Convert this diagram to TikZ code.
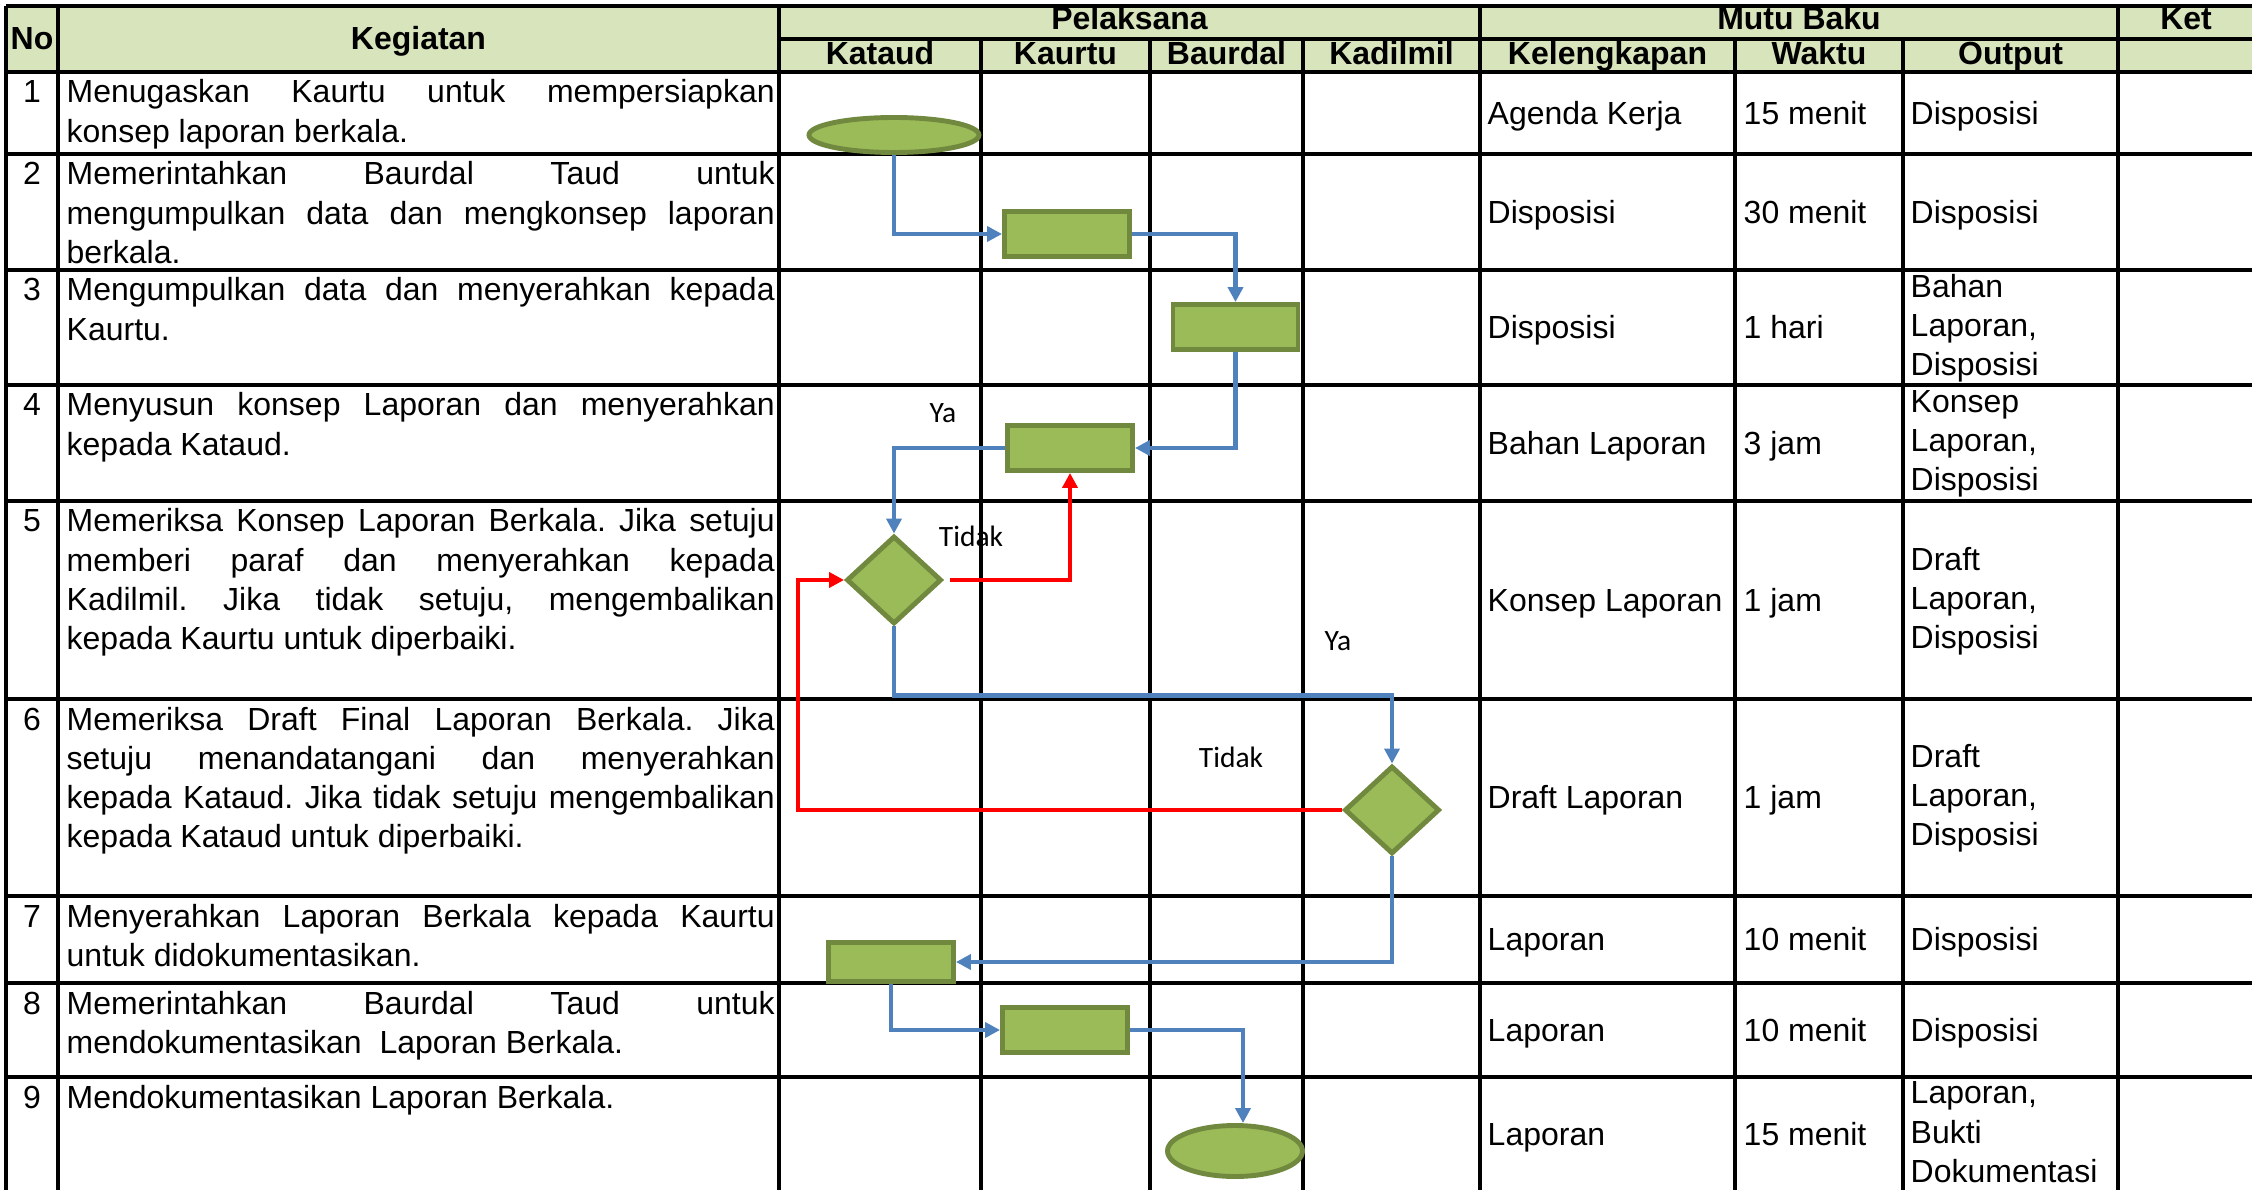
\documentclass[tikz,border=0pt]{standalone}
\usepackage{fontspec}
\setmainfont{Liberation Sans}
\newfontfamily\labelfont{Carlito}
\usetikzlibrary{shapes.geometric, arrows.meta}

\definecolor{headgreen}{HTML}{D8E4BC}
\definecolor{boxgreen}{HTML}{9BBB59}
\definecolor{boxline}{HTML}{71893F}
\definecolor{flowblue}{HTML}{4F81BD}

\newcommand{\bodyfont}{\fontsize{9.1}{11.15}\selectfont\frenchspacing}
\newcommand{\headfont}{\fontsize{9.1}{11.15}\selectfont\bfseries}
\tolerance=10000
\hbadness=10000
\hyphenpenalty=10000

\begin{document}
\begin{tikzpicture}[x=1cm, y=-1cm,
    rule/.style={line width=1pt},
    head/.style={font=\headfont, inner sep=0pt, anchor=base},
    nomor/.style={font=\bodyfont, inner sep=0pt, anchor=base},
    kegiatan/.style={font=\bodyfont, inner sep=0pt, anchor=base west, text width=7.08cm, align=justify},
    isi/.style={font=\bodyfont, inner sep=0pt, anchor=west, align=left,
        execute at begin node=\strut, execute at end node=\strut},
    proses/.style={rectangle, draw=boxline, fill=boxgreen, line width=1.4pt,
        minimum width=1.25cm, minimum height=0.45cm, inner sep=0pt},
    mulai/.style={ellipse, draw=boxline, fill=boxgreen, line width=1.4pt, inner sep=0pt},
    cek/.style={diamond, draw=boxline, fill=boxgreen, line width=1.4pt, inner sep=0pt,
        minimum width=0.95cm, minimum height=0.88cm},
    alur/.style={draw=flowblue, line width=1.3pt, -{Triangle[length=0.15cm,width=0.15cm]}},
    balik/.style={draw=red, line width=1.3pt, -{Triangle[length=0.15cm,width=0.15cm]}},
    ket/.style={font=\labelfont\fontsize{8.4}{10}\selectfont, inner sep=0pt}]

    \useasboundingbox (0,0) rectangle (22.52,11.90);
    \clip (0,0) rectangle (22.52,11.90);

    % header background
    \fill[headgreen] (0.06,0.06) rectangle (22.6,0.72);

    % table lines
    \draw[rule] (0.06,0.06) -- (22.6,0.06);
    \draw[rule] (7.79,0.39) -- (22.6,0.39);
    \foreach \y in {0.72,1.54,2.70,3.85,5.01,6.99,8.96,9.83,10.77}
        \draw[rule] (0.06,\y) -- (22.6,\y);
    \foreach \x in {0.06,0.58,7.79,14.80,21.18}
        \draw[rule] (\x,0.06) -- (\x,12);
    \foreach \x in {9.81,11.50,13.03,17.35,19.03}
        \draw[rule] (\x,0.39) -- (\x,12);

    % header texts
    \node[head] (hno) at (0.32,0.495) {No};
    \node[head] (hkeg) at (4.185,0.495) {Kegiatan};
    \node[head] (hpel) at (11.295,0.30) {Pelaksana};
    \node[head] (hmutu) at (17.99,0.30) {Mutu Baku};
    \node[head] (hket) at (21.86,0.30) {Ket};
    \node[head] (hkataud) at (8.80,0.645) {Kataud};
    \node[head] (hkaurtu) at (10.655,0.645) {Kaurtu};
    \node[head] (hbaurdal) at (12.265,0.645) {Baurdal};
    \node[head] (hkadilmil) at (13.915,0.645) {Kadilmil};
    \node[head] (hkel) at (16.075,0.645) {Kelengkapan};
    \node[head] (hwaktu) at (18.19,0.645) {Waktu};
    \node[head] (hout) at (20.105,0.645) {Output};

    % rows: number, Kelengkapan, Waktu, Output
    \foreach \i/\yt/\ym/\kel/\wkt/\out in {
        1/0.72/1.13/{Agenda Kerja}/{15 menit}/{Disposisi},
        2/1.54/2.12/{Disposisi}/{30 menit}/{Disposisi},
        3/2.70/3.275/{Disposisi}/{1 hari}/{Bahan\\Laporan,\\Disposisi},
        4/3.85/4.43/{Bahan Laporan}/{3 jam}/{Konsep\\Laporan,\\Disposisi},
        5/5.01/6.00/{Konsep Laporan}/{1 jam}/{Draft\\Laporan,\\Disposisi},
        6/6.99/7.975/{Draft Laporan}/{1 jam}/{Draft\\Laporan,\\Disposisi},
        7/8.96/9.395/{Laporan}/{10 menit}/{Disposisi},
        8/9.83/10.30/{Laporan}/{10 menit}/{Disposisi},
        9/10.77/11.345/{Laporan}/{15 menit}/{Laporan,\\Bukti\\Dokumentasi}}
    {
        \node[nomor] (no\i) at (0.32,\yt+0.31) {\i};
        \node[isi] (kel\i) at (14.87,\ym+0.035) {\kel};
        \node[isi] (wkt\i) at (17.43,\ym+0.035) {\wkt};
        \node[isi] (out\i) at (19.10,\ym+0.035) {\out};
    }

    % Kegiatan
    \node[kegiatan] (keg1) at (0.66,1.03) {Menugaskan Kaurtu untuk mempersiapkan\linebreak konsep laporan berkala.};
    \node[kegiatan] (keg2) at (0.66,1.85) {Memerintahkan Baurdal Taud untuk\linebreak mengumpulkan data dan mengkonsep laporan\linebreak berkala.};
    \node[kegiatan] (keg3) at (0.66,3.01) {Mengumpulkan data dan menyerahkan kepada\linebreak Kaurtu.};
    \node[kegiatan] (keg4) at (0.66,4.16) {Menyusun konsep Laporan dan menyerahkan\linebreak kepada Kataud.};
    \node[kegiatan] (keg5) at (0.66,5.32) {Memeriksa Konsep Laporan Berkala. Jika setuju\linebreak memberi paraf dan menyerahkan kepada\linebreak Kadilmil. Jika tidak setuju, mengembalikan\linebreak kepada Kaurtu untuk diperbaiki.};
    \node[kegiatan] (keg6) at (0.66,7.30) {Memeriksa Draft Final Laporan Berkala. Jika\linebreak setuju menandatangani dan menyerahkan\linebreak kepada Kataud. Jika tidak setuju mengembalikan\linebreak kepada Kataud untuk diperbaiki.};
    \node[kegiatan] (keg7) at (0.66,9.27) {Menyerahkan Laporan Berkala kepada Kaurtu\linebreak untuk didokumentasikan.};
    \node[kegiatan] (keg8) at (0.66,10.14) {Memerintahkan Baurdal Taud untuk\linebreak mendokumentasikan~ Laporan Berkala.};
    \node[kegiatan] (keg9) at (0.66,11.08) {Mendokumentasikan Laporan Berkala.};

    % flow shapes
    \node[mulai, minimum width=1.70cm, minimum height=0.35cm] (s1) at (8.94,1.35) {};
    \node[proses] (r2) at (10.67,2.34) {};
    \node[proses] (r3) at (12.355,3.27) {};
    \node[proses] (r4) at (10.70,4.48) {};
    \node[cek] (d1) at (8.94,5.80) {};
    \node[cek] (d2) at (13.92,8.10) {};
    \node[proses, minimum height=0.39cm] (r7) at (8.91,9.62) {};
    \node[proses] (r8) at (10.65,10.30) {};
    \node[mulai, minimum width=1.35cm, minimum height=0.51cm] (e9) at (12.35,11.51) {};

    % labels
    \node[ket] (ya1) at (9.43,4.13) {Ya};
    \node[ket] (tidak1) at (9.71,5.36) {Tidak};
    \node[ket] (ya2) at (13.38,6.41) {Ya};
    \node[ket] (tidak2) at (12.31,7.57) {Tidak};

    % connectors
    \draw[alur] (s1.south) |- (r2.west);
    \draw[alur] (r2.east) -| (r3.north);
    \draw[alur] (r3.south) |- (r4.east);
    \draw[alur] (r4.west) -| (d1.north);
    \draw[balik, shorten <=0.06cm] (d1.east) -| (r4.south);
    \coordinate (kiri) at (7.98,8.10);
    \draw[balik] (d2.west) -- (kiri) |- (d1.west);
    \draw[alur] (d1.south) -- ++(0,0.69) -| (d2.north);
    \draw[alur] (d2.south) |- (r7.east);
    \draw[alur] (r7.south) |- (r8.west);
    \draw[alur] (r8.east) -| ([xshift=0.08cm]e9.north);

\end{tikzpicture}
\end{document}
